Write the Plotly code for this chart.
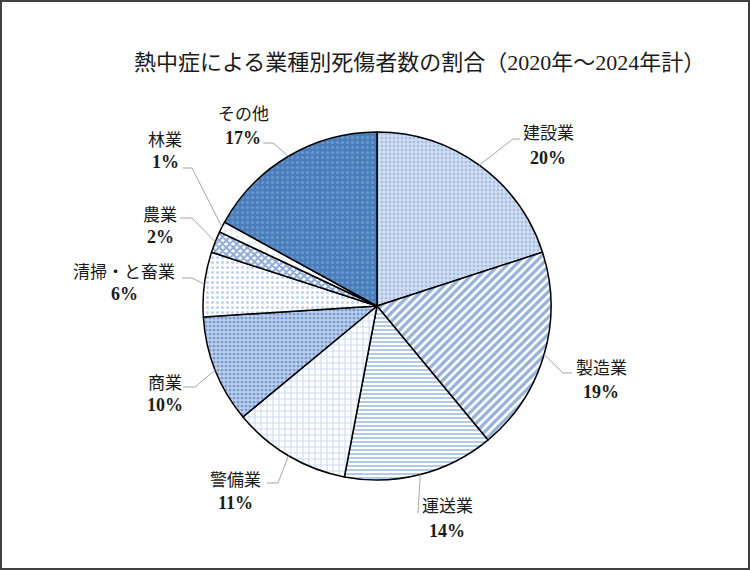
import math
import plotly.graph_objects as go

# Data for the chart
categories = ["建設業", "製造業", "運送業", "警備業", "商業", "清掃・と畜業", "農業", "林業", "その他"]
shares = [20, 19, 14, 11, 10, 6, 2, 1, 17]
title_text = "熱中症による業種別死傷者数の割合（2020年～2024年計）"

W, H = 750, 570
CX, CY, R = 377, 306, 174

# slice styles
bg_colors = ["#d3e0f2", "#ffffff", "#ffffff", "#ffffff", "#c2d3ed", "#ffffff", "#ffffff", "#ffffff", "#4a7ebb"]
fg_colors = ["#7a9fd6", "#2d62b0", "#5a86c8", "#9bb7e2", "#3468b5", "#7fa4da", "#2258ad", "#c8d7ef", "#8cb0e0"]
shapes_pat = [".", "/", "-", "+", ".", ".", "x", ".", "."]
sizes_pat = [4, 6, 4, 6, 4, 5, 5, 6, 5]
solid_pat = [0.45, 0.55, 0.45, 0.35, 0.5, 0.3, 0.65, 0.3, 0.3]

# label layout in pixels: text centre x, name y, pct y, leader y, elbow x, end x
label_pos = [
    (548, 133, 158, 139, 513, 520),
    (601, 368, 392, 373, 563, 572),
    (447, 506, 531, 513, 418, 418),
    (235, 480, 503, 483, 278, 267),
    (165, 383, 405, 387, 195, 183),
    (124, 273, 294, 278, 192, 182),
    (160, 215, 237, 218, 192, 180),
    (165, 140, 162, 168, 192, 183),
    (243, 115, 138, 143, 273, 263),
]

FONT = "Liberation Serif, Noto Sans CJK JP"


def px(x):
    return x / W


def py(y):
    return 1 - y / H


fig = go.Figure()
fig.add_trace(go.Pie(
    labels=categories,
    values=shares,
    sort=False,
    direction="clockwise",
    rotation=0,
    textinfo="none",
    hoverinfo="label+percent",
    marker=dict(
        colors=bg_colors,
        line=dict(color="#000000", width=1.5),
        pattern=dict(shape=shapes_pat, fgcolor=fg_colors, bgcolor=bg_colors,
                     size=sizes_pat, solidity=solid_pat, fillmode="overlay"),
    ),
    domain=dict(x=[px(CX - R), px(CX + R)], y=[py(CY + R), py(CY - R)]),
    showlegend=False,
))

total = sum(shares)
cum = 0
annotations = []
shapes = []
for i, (name, v) in enumerate(zip(categories, shares)):
    mid = (cum + v / 2) / total * 2 * math.pi
    cum += v
    ax = CX + R * math.sin(mid)
    ay = CY - R * math.cos(mid)
    tx, ny, pcty, ly, ex, endx = label_pos[i]
    shapes.append(dict(
        type="path", xref="paper", yref="paper",
        path=f"M {px(ax)} {py(ay)} L {px(ex)} {py(ly)} L {px(endx)} {py(ly)}",
        line=dict(color="#a6a6a6", width=1),
    ))
    annotations.append(dict(x=px(tx), y=py(ny), xref="paper", yref="paper",
                            text=name, showarrow=False, xanchor="center", yanchor="middle",
                            font=dict(family=FONT, size=17, color="#1a1a1a")))
    annotations.append(dict(x=px(tx), y=py(pcty), xref="paper", yref="paper",
                            text=f"<b>{v}%</b>", showarrow=False, xanchor="center", yanchor="middle",
                            font=dict(family=FONT, size=18, color="#1a1a1a")))

annotations.append(dict(x=px(419), y=py(62), xref="paper", yref="paper",
                        text=title_text, showarrow=False, xanchor="center", yanchor="middle",
                        font=dict(family=FONT, size=22, color="#1a1a1a")))

# outer frame
shapes.append(dict(type="rect", xref="paper", yref="paper",
                   x0=px(1), x1=px(W - 1), y0=py(H - 1), y1=py(1),
                   line=dict(color="#404040", width=2)))

fig.update_layout(
    width=W, height=H,
    margin=dict(l=0, r=0, t=0, b=0),
    paper_bgcolor="#ffffff",
    plot_bgcolor="#ffffff",
    annotations=annotations,
    shapes=shapes,
)

fig.write_html("out.html", config={"displayModeBar": False},
               post_script="document.body.style.margin='0';")
